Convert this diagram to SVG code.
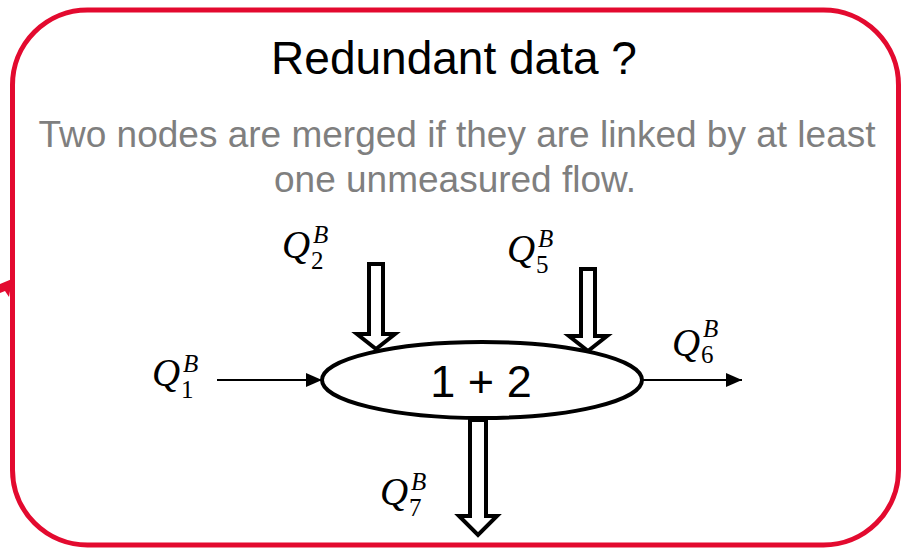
<svg xmlns="http://www.w3.org/2000/svg" width="903" height="548" viewBox="0 0 903 548">
<style>
.sans{font-family:"Liberation Sans",Arial,sans-serif;}
.title{font-size:46px;fill:#000;text-anchor:middle;}
.sub{font-size:37px;fill:#7f7f7f;text-anchor:middle;}
.node{fill:#fff;stroke:#000;stroke-width:4;}
.nlabel{font-size:45px;fill:#000;text-anchor:middle;}
.q{font-family:"Liberation Serif","Times New Roman",serif;font-style:italic;font-size:39px;fill:#000;}
.sup{font-family:"Liberation Serif","Times New Roman",serif;font-style:italic;font-size:25px;fill:#000;}
.subs{font-family:"Liberation Serif","Times New Roman",serif;font-size:25px;fill:#000;}
.thin{stroke:#000;stroke-width:2;fill:none;}
.block{fill:#fff;stroke:#000;stroke-width:4;stroke-linejoin:miter;}
</style>
<defs>
<marker id="ah2" viewBox="0 0 16 14" refX="16" refY="7" markerWidth="16" markerHeight="14" markerUnits="userSpaceOnUse" orient="auto">
<path d="M0,0 L16,7 L0,14 Z" fill="#000"/>
</marker>
</defs>
<g id="frame">
<rect x="12.5" y="10" width="886" height="535" rx="75" ry="75" fill="#fff" stroke="#e30a2f" stroke-width="5"/>
<polygon points="0,284 12,279 9,297 5,291 0,293" fill="#e30a2f"/>
</g>
<g id="texts" class="sans">
<text class="title" x="454" y="74">Redundant data ?</text>
<text class="sub" x="457" y="147">Two nodes are merged if they are linked by at least</text>
<text class="sub" x="455" y="192">one unmeasured flow.</text>
</g>
<g id="connectors">
<line class="thin" x1="217" y1="380" x2="322" y2="380" marker-end="url(#ah2)"/>
<line class="thin" x1="642" y1="380" x2="742" y2="380" marker-end="url(#ah2)"/>
<path class="block" d="M369,264 L383,264 L383,334 L395,334 L376,349 L357,334 L369,334 Z"/>
<path class="block" d="M581,269 L595,269 L595,336 L607,336 L588,351 L569,336 L581,336 Z"/>
<path class="block" d="M470,420 L486,420 L486,516 L497,516 L478,535 L459,516 L470,516 Z"/>
</g>
<g id="node12">
<ellipse class="node" cx="482" cy="380" rx="160" ry="38"/>
<text class="sans nlabel" x="481" y="397">1 + 2</text>
</g>
<g id="labels">
<g id="lQ1"><text class="q" x="152" y="386">Q</text><text class="sup" x="183" y="372">B</text><text class="subs" x="181" y="398">1</text></g>
<g id="lQ2"><text class="q" x="282" y="258">Q</text><text class="sup" x="313" y="243">B</text><text class="subs" x="311" y="269">2</text></g>
<g id="lQ5"><text class="q" x="507" y="262">Q</text><text class="sup" x="538" y="247">B</text><text class="subs" x="536" y="273">5</text></g>
<g id="lQ6"><text class="q" x="672" y="356">Q</text><text class="sup" x="703" y="337">B</text><text class="subs" x="701" y="363">6</text></g>
<g id="lQ7"><text class="q" x="380" y="505">Q</text><text class="sup" x="411" y="490">B</text><text class="subs" x="409" y="516">7</text></g>
</g>
</svg>
